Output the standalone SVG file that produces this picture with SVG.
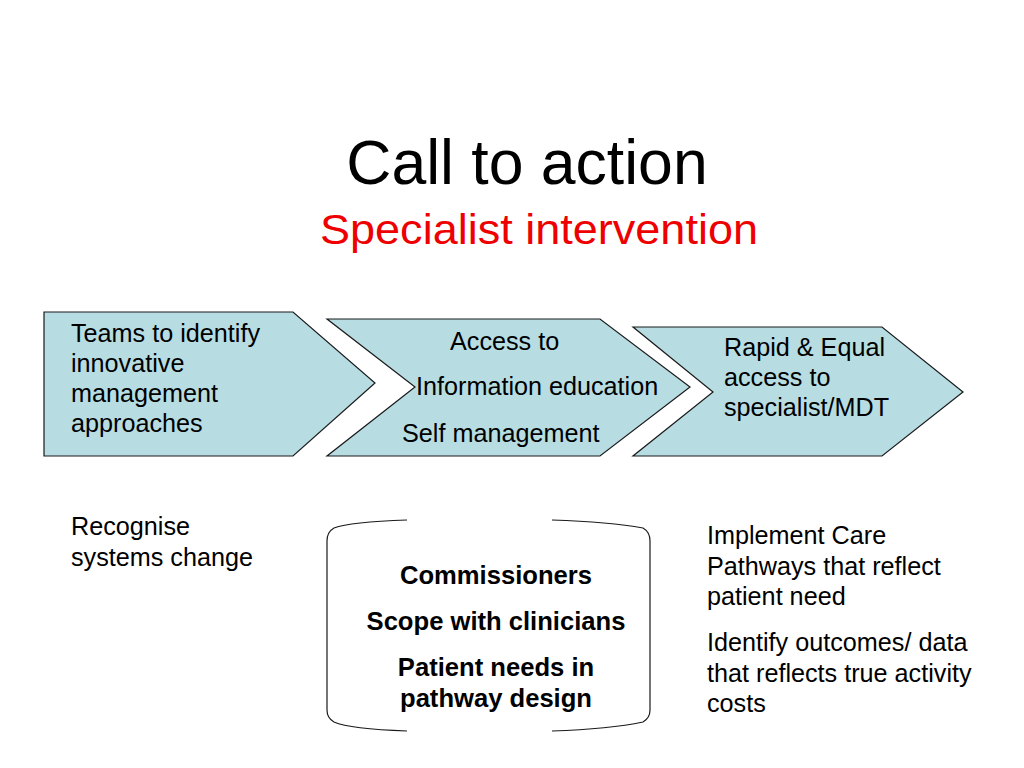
<svg xmlns="http://www.w3.org/2000/svg" width="1024" height="768" viewBox="0 0 1024 768">
<style>
text{font-family:"Liberation Sans",Arial,sans-serif;fill:#000}
.chev{fill:#B7DDE3;stroke:#1a1a1a;stroke-width:1.2}
.b{font-size:25.2px}
.bb{font-size:25.6px;font-weight:bold;text-anchor:middle}
.br{fill:none;stroke:#1a1a1a;stroke-width:1.2}
</style>
<rect width="1024" height="768" fill="#fff"/>
<text x="527" y="184" font-size="62.5" text-anchor="middle">Call to action</text>
<text x="320" y="244" font-size="43" textLength="438" lengthAdjust="spacingAndGlyphs" style="fill:#EE0000">Specialist intervention</text>
<g id="node-teams">
<path class="chev" d="M44,312 L293,312 L375,383 L293,456 L44,456 Z"/>
<text class="b" x="71" y="342">Teams to identify</text>
<text class="b" x="71" y="372">innovative</text>
<text class="b" x="71" y="402">management</text>
<text class="b" x="71" y="432">approaches</text>
</g>
<g id="node-access">
<path class="chev" d="M327,319 L600,319 L690,387 L600,456 L327,456 L415,387 Z"/>
<text class="b" x="450" y="350">Access to</text>
<text class="b" x="416" y="395">Information education</text>
<text class="b" x="402" y="442">Self management</text>
</g>
<g id="node-rapid">
<path class="chev" d="M633,327 L882,327 L963,392 L882,456 L633,456 L713,392 Z"/>
<text class="b" x="724" y="356">Rapid &amp; Equal</text>
<text class="b" x="724" y="386">access to</text>
<text class="b" x="724" y="416">specialist/MDT</text>
</g>
<g id="node-recognise">
<text class="b" x="71" y="535">Recognise</text>
<text class="b" x="71" y="566">systems change</text>
</g>
<g id="node-commissioners">
<path class="br" d="M407,520 Q350,522 334,528 Q327,532 327,541 L327,710 Q327,718 334,722 Q350,729 407,731"/>
<path class="br" d="M552,520 Q610,522 643,528 Q650,532 650,541 L650,710 Q650,718 643,722 Q610,729 552,731"/>
<text class="bb" x="496" y="584">Commissioners</text>
<text class="bb" x="496" y="630">Scope with clinicians</text>
<text class="bb" x="496" y="676">Patient needs in</text>
<text class="bb" x="496" y="707">pathway design</text>
</g>
<g id="node-implement">
<text class="b" x="707" y="544">Implement Care</text>
<text class="b" x="707" y="575">Pathways that reflect</text>
<text class="b" x="707" y="605">patient need</text>
<text class="b" x="707" y="651">Identify outcomes/ data</text>
<text class="b" x="707" y="682">that reflects true activity</text>
<text class="b" x="707" y="712">costs</text>
</g>
<g id="connectors"></g>
</svg>
